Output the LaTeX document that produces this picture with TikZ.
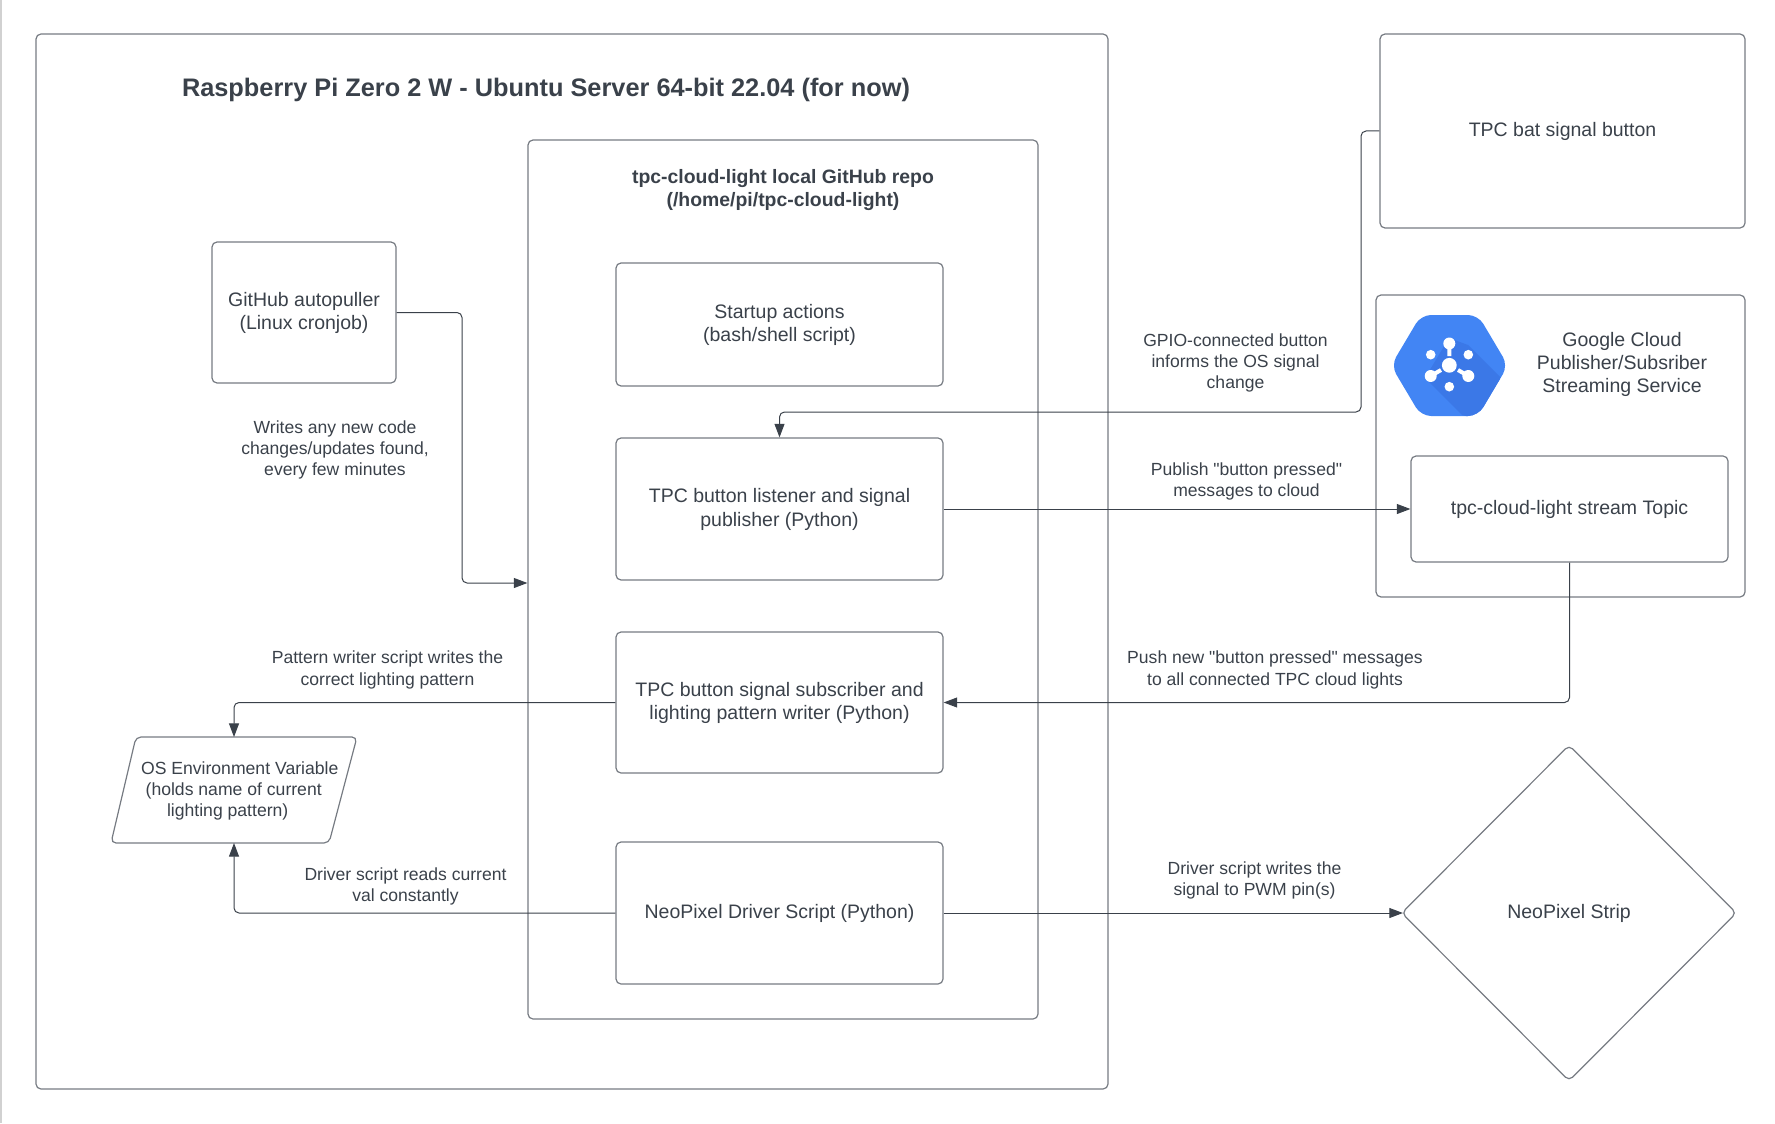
\documentclass[tikz,border=0pt]{standalone}
\usepackage{fontspec}
\setmainfont{Liberation Sans}[Ligatures=TeXOff]
\usetikzlibrary{arrows.meta,shapes.geometric,calc}
\definecolor{ink}{HTML}{3A414A}
\definecolor{edgegray}{HTML}{767B82}
\definecolor{hexblue}{HTML}{4285F4}
\definecolor{hexdark}{HTML}{3B78E7}
\tikzset{
  px/.style={x=0.5pt,y=-0.5pt},
  outline/.style={draw=edgegray,line width=0.6pt,rounded corners=2.5pt},
  boxtext/.style={text=ink,font=\fontsize{9.75}{11.7}\selectfont,align=center,inner sep=0pt},
  labeltext/.style={text=ink,font=\fontsize{8.78}{10.55}\selectfont,align=center,inner sep=0pt},
  boldtext/.style={text=ink,font=\bfseries\fontsize{9.7}{11.7}\selectfont,align=center,inner sep=0pt},
  titletext/.style={text=ink,font=\bfseries\fontsize{12.67}{15}\selectfont,align=center,inner sep=0pt},
  wire/.style={draw=ink,line width=0.5pt,rounded corners=2.5pt,-{Triangle[length=6.8pt,width=5pt]}}
}
% name, x1, y1, x2, y2, text
\newcommand{\pbox}[6]{%
  \pgfmathsetmacro{\bw}{(#4-#2)/2}%
  \pgfmathsetmacro{\bh}{(#5-#3)/2}%
  \node[outline,boxtext,minimum width=\bw pt,minimum height=\bh pt] (#1) at ({(#2+#4)/2},{(#3+#5)/2}) {\raisebox{-0.4pt}[\height][\depth]{\begin{tabular}{@{}c@{}}#6\end{tabular}}};%
}
\begin{document}
\begin{tikzpicture}[px]
\useasboundingbox (0,0) rectangle (1775,1123);
\fill[black!18] (0,0) rectangle (2,1123);
% containers
\pbox{pi}{36}{34}{1108}{1089}{}
\pbox{repo}{528}{140}{1038}{1019}{}
\pbox{bat}{1380}{34}{1745}{228}{TPC bat signal button}
\pbox{cloud}{1376}{295}{1745}{597}{}
% boxes
\pbox{startup}{616}{263}{943}{386}{Startup actions\\(bash/shell script)}
\pbox{listener}{616}{438}{943}{580}{TPC button listener and signal\\publisher (Python)}
\pbox{subscriber}{616}{632}{943}{773}{TPC button signal subscriber and\\lighting pattern writer (Python)}
\pbox{driver}{616}{842}{943}{984}{NeoPixel Driver Script (Python)}
\pbox{auto}{212}{242}{396}{383}{GitHub autopuller\\(Linux cronjob)}
\pbox{topic}{1411}{456}{1728}{562}{tpc-cloud-light stream Topic}
% diamond
\node[diamond,draw=edgegray,line width=0.6pt,rounded corners=2.5pt,boxtext,minimum width=167.5pt,minimum height=168pt,aspect=1] (strip) at (1569,913) {NeoPixel Strip};
% parallelogram
\coordinate (osTL) at (136,737);
\coordinate (osTR) at (357,737);
\coordinate (osBR) at (329,843);
\coordinate (osBL) at (111,843);
\draw[outline] (osTL) -- (osTR) -- (osBR) -- (osBL) -- cycle;
\node[boxtext,font=\fontsize{8.8}{10.6}\selectfont] (os) at (233.7,791) {\hspace*{6pt}OS Environment Variable\\(holds name of current\\lighting pattern)\hspace*{6pt}};
\coordinate (osTop) at (234,737);
\coordinate (osBot) at (234,843);
% hexagon icon
\begin{scope}
\clip[rounded corners=5pt] (1391,365.5) -- (1421,315) -- (1478,315) -- (1508,365.5) -- (1478,416) -- (1421,416) -- cycle;
\fill[hexblue] (1380,305) rectangle (1520,425);
\fill[hexdark] (1449,338) -- (1468,345) -- (1500,377) -- (1520,430) -- (1462,415) -- (1425,378) -- cycle;
\end{scope}
\begin{scope}[white]
\fill (1449.3,365.3) circle[radius=3.7pt];
\fill (1449.3,343.5) circle[radius=3pt];
\fill (1430.7,354.7) circle[radius=2.4pt];
\fill (1468.3,354.7) circle[radius=2.4pt];
\fill (1430.7,376) circle[radius=3pt];
\fill (1468.3,376) circle[radius=3pt];
\fill (1449.3,386.7) circle[radius=2.4pt];
\draw[white,line width=2pt] (1449.3,343.5) -- (1449.3,356) (1430.7,376) -- (1441,370) (1468.3,376) -- (1458,370);
\end{scope}
% titles
\node[titletext] (pititle) at (546,90) {Raspberry Pi Zero 2 W - Ubuntu Server 64-bit 22.04 (for now)};
\node[boldtext] (repotitle) at (783,190) {tpc-cloud-light local GitHub repo\\(/home/pi/tpc-cloud-light)};
\node[boxtext] (cloudtitle) at (1622,364.5) {Google Cloud\\Publisher/Subsriber\\Streaming Service};
% labels
\node[labeltext] (l1) at (1235.5,363) {GPIO-connected button\\informs the OS signal\\change};
\node[labeltext] (l2) at (335,450) {Writes any new code\\changes/updates found,\\every few minutes};
\node[labeltext] (l3) at (1246.5,481.5) {Publish "button pressed"\\messages to cloud};
\node[labeltext] (l4) at (387.5,670) {Pattern writer script writes the\\correct lighting pattern};
\node[labeltext] (l5) at (1275,670) {Push new "button pressed" messages\\to all connected TPC cloud lights};
\node[labeltext] (l6) at (405.5,886) {Driver script reads current\\val constantly};
\node[labeltext] (l7) at (1254.5,880) {Driver script writes the\\signal to PWM pin(s)};
% connectors
\coordinate (repoIn) at (repo.west |- 0,583);
\coordinate (batTurn) at (1361,412);
\draw[wire] (auto.east) -- (462,312.5) -- (462,583) -- (repoIn);
\draw[wire] (bat.west) -- (1361,131) -- (batTurn) -- (listener.north |- batTurn) -- (listener.north);
\draw[wire] (listener.east) -- (topic.west |- listener.east);
\draw[wire] (topic.south) |- (subscriber.east);
\draw[wire] (subscriber.west) -| (osTop);
\draw[wire] (driver.west) -| (osBot);
\draw[wire,shorten >=-1pt] (driver.east) -- (strip.west);
\end{tikzpicture}
\end{document}
